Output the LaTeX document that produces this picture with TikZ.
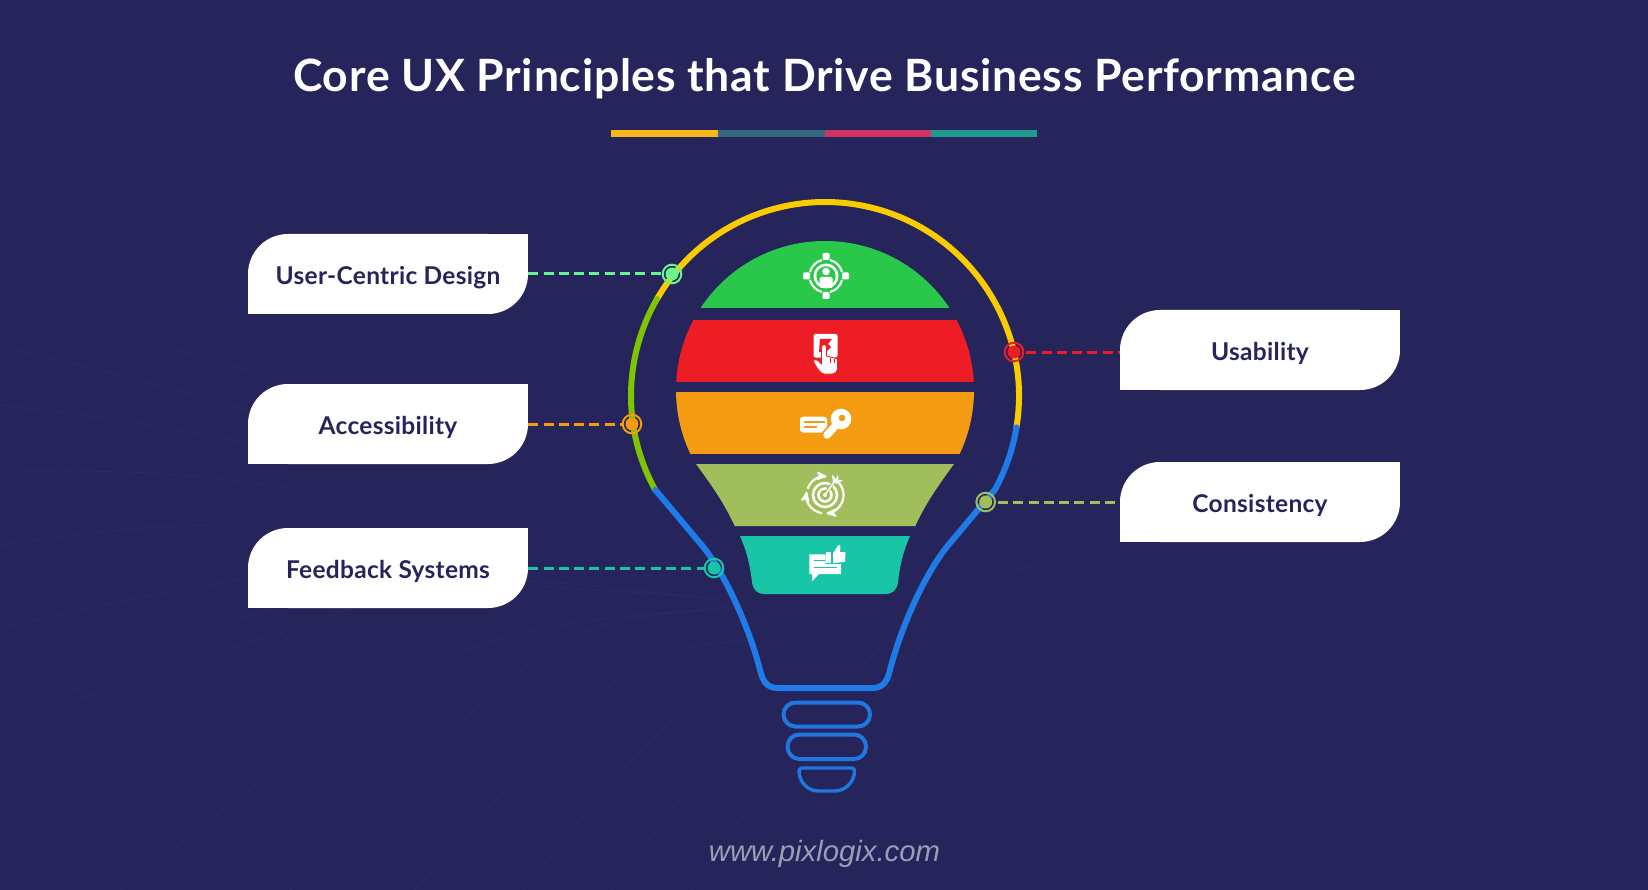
\documentclass[tikz,border=0pt]{standalone}
\usepackage{fontspec}
\setmainfont{Lato}
\newfontfamily\urlfont{Liberation Sans}
\usetikzlibrary{arrows, positioning}
\definecolor{bulbnavy}{HTML}{25255C}
\definecolor{raygrey}{HTML}{2B2B61}
\definecolor{bulbyellow}{HTML}{FACC00}
\definecolor{bulbgreen}{HTML}{7FC400}
\definecolor{bulbblue}{HTML}{1F7BE8}
\definecolor{socketblue}{HTML}{2176E0}
\definecolor{segmint}{HTML}{66F58F}
\definecolor{seggreen}{HTML}{2AC84A}
\definecolor{segred}{HTML}{EE1C25}
\definecolor{segorange}{HTML}{F59B12}
\definecolor{segolive}{HTML}{A0BE5C}
\definecolor{segteal}{HTML}{18C5A6}
\definecolor{ruleone}{HTML}{F8B61A}
\definecolor{ruletwo}{HTML}{336A80}
\definecolor{rulethree}{HTML}{CF3460}
\definecolor{rulefour}{HTML}{1F9A8F}
\definecolor{sitegrey}{HTML}{9C9CB4}
\tikzset{
        labelbox/.style={minimum width=280pt, minimum height=80pt, inner sep=0pt, text=bulbnavy,
            text height=20.5pt, text depth=0pt, font=\fontsize{24.5}{28}\selectfont\bfseries\addfontfeatures{LetterSpace=1.2},
            path picture={
                \fill[white, rounded corners=40pt] (path picture bounding box.south west) rectangle (path picture bounding box.north east);
                \fill[white] (path picture bounding box.north east) rectangle (path picture bounding box.center);
                \fill[white] (path picture bounding box.south west) rectangle (path picture bounding box.center);
            }}, % two round corners, two square ones
        dotmark/.style={circle, minimum size=13pt, inner sep=0pt},
        leader/.style={line width=3pt, dash pattern=on 10pt off 5.3pt},
        bulbline/.style={line width=6pt, line cap=round},
        socket/.style={draw=socketblue, line width=4pt},
        ray/.style={draw=raygrey, line width=.9pt},
    }

\begin{document}
\begin{tikzpicture}[x=1pt, y=-1pt]
    \fill[bulbnavy] (0,0) rectangle (1648,890);
    \useasboundingbox (0,0) rectangle (1648,890);

    % faint rays behind everything
    \foreach \ax/\ay/\bx/\by/\cx/\cy in {
        25/300/140/340/248/370, 0/346/125/376/248/410, 0/405/125/420/248/443,
        0/470/170/472/300/489, 0/545/150/525/300/525, 0/628/125/600/248/578,
        76/700/190/660/300/627, 0/725/330/570/700/597, 0/833/380/560/720/600,
        121/890/450/630/733/607, 290/890/560/620/720/610, 415/890/630/650/752/640,
        523/890/670/710/765/677, 612/890/715/750/797/710, 692/890/750/800/815/760,
        860/670/930/590/1027/557, 870/713/960/590/1093/543}
        \draw[ray] (\ax,\ay) .. controls (\bx,\by) .. (\cx,\cy);

    \node[anchor=base, text=white, font=\fontsize{44.5}{50}\selectfont\bfseries\addfontfeatures{LetterSpace=1.7}] (title) at (824.5,91.7) {Core UX Principles that Drive Business Performance};

    % title rule
    \fill[ruleone] (611,130) rectangle (718,136.7);
    \fill[ruletwo] (718,130) rectangle (825,136.7);
    \fill[rulethree] (825,130) rectangle (931,136.7);
    \fill[rulefour] (931,130) rectangle (1037,136.7);

    % bulb outline
    \coordinate (bulbc) at (825,396);
    \draw[bulbline, bulbyellow] ([shift={(9.3:194)}]bulbc) arc (9.3:-150:194);
    \draw[bulbline, bulbgreen] ([shift={(-150:194)}]bulbc) arc (-150:-209:194);
    \draw[bulbline, bulbblue] ([shift={(9.3:194)}]bulbc) arc (9.3:29:194)
        .. controls (980,507) and (962,529) .. (950,543)
        .. controls (925,572) and (900,630) .. (890,670)
        .. controls (887,682) and (883,688) .. (872,688) -- (778,688)
        .. controls (767,688) and (763,682) .. (760,670)
        .. controls (750,630) and (725,572) .. (700,543)
        .. controls (688,529) and (670,507) .. (655.3,490);

    % screw base
    \draw[socket, rounded corners=12pt] (783.5,702.5) rectangle (870,726.5);
    \draw[socket, rounded corners=12pt] (787.5,734.5) rectangle (866,759);
    \draw[socket, line width=3.4pt] (802,768) -- (851.5,768)
        .. controls (853.5,768) and (854.5,769.5) .. (854.5,771)
        .. controls (854.5,782) and (845,791) .. (835,791) -- (818,791)
        .. controls (808,791) and (799,782) .. (799,771)
        .. controls (799,769.5) and (800.5,768) .. (802,768) -- cycle;

    % stacked segments
    \begin{scope}
        \clip (825,390) circle (149);
        \fill[seggreen] (660,230) rectangle (990,307.7);
        \fill[segred] (660,320) rectangle (990,382);
        \fill[segorange] (660,392) rectangle (990,454);
    \end{scope}
    \fill[segolive] (696,464) -- (954,464) .. controls (935,490) and (925,505) .. (915.3,526)
        -- (734.7,526) .. controls (725,505) and (715,490) .. (696,464) -- cycle;
    \fill[segteal] (740,536) -- (910,536) .. controls (903,552) and (900,565) .. (898,582)
        .. controls (897,590) and (893,594) .. (885,594) -- (765,594)
        .. controls (757,594) and (753,590) .. (752,582)
        .. controls (750,565) and (747,552) .. (740,536) -- cycle;

    % icon: user target
    \foreach \r in {0,90,180,270} {
        \fill[white, rounded corners=1.2pt, shift={(826,276)}, rotate=\r] (16,-3.5) rectangle (23,3.5);
        \draw[white, line width=2.1pt] ([shift={(\r+14:16.5)}]826,276) arc (\r+14:\r+76:16.5);
    }
    \fill[white] (826,276) circle (12.5);
    \fill[seggreen] (826,276) circle (9.7);
    \fill[white] (826,271.5) circle (3.8);
    \fill[white, rounded corners=1.5pt] (819.5,277) rectangle (832.5,288);

    % icon: touch screen
    \fill[white, rounded corners=2pt] (813.5,334) rectangle (837.5,357.5);
    \fill[segred] (820,339) -- (832,339) -- (828,344) -- (831,347) -- (826,352) -- (819,352) -- cycle;
    \filldraw[fill=white, draw=segred, line width=.8pt] (821.5,358) -- (821.5,347)
        .. controls (821.5,344) and (826.5,344) .. (826.5,347) -- (826.5,356) -- (837.5,359) -- (837.5,368)
        .. controls (837.5,372) and (835,374) .. (831,374) -- (824,374)
        .. controls (820,374) and (816,366) .. (813.5,362)
        .. controls (813.5,359) and (816,359) .. (818,360.5) -- (821.5,364) -- cycle;
    \draw[segred, line width=.8pt] (830,358) -- (830,363) (834,358.5) -- (834,363);

    % icon: card and key
    \fill[white, rounded corners=3pt] (800,416.7) rectangle (827,432.5);
    \fill[segorange] (803.5,420.5) rectangle (825,423);
    \fill[segorange] (803.5,426) rectangle (817,428);
    \draw[segorange, line width=11pt] (826,436) -- (838,423);
    \draw[white, line width=7.5pt, line cap=round] (827,435) -- (838,423);
    \fill[white] (841,419) circle (10.3);
    \fill[segorange] (842,418) circle (3.3);

    % icon: target with arrows
    \draw[white, line width=2.6pt] (825,495) circle (12) (825,495) circle (6.5);
    \fill[white] (825,495) circle (2);
    \foreach \s/\e in {-40/85, 100/190, 200/275}
        \draw[white, line width=2.2pt, -stealth'] ([shift={(\s:18.5)}]825,495) arc (\s:\e:18.5);
    \draw[segolive, line width=3.4pt] (826,493) -- (834,482);
    \draw[white, line width=1.5pt] (825.5,494) -- (835,481);
    \fill[white] (833,482) -- (832,475) -- (836,479) -- (838,474.5) -- (838.5,480) -- (843,480) -- (837,484) -- cycle;

    % icon: speech bubble and thumb
    \fill[white] (809.3,554.3) -- (825.6,554.3) -- (825.6,564) -- (841,564) -- (841,574) -- (819,574)
        -- (812,581) -- (812,574) -- (809.3,574) -- cycle;
    \draw[segteal, line width=1pt] (814,560) -- (824.5,560) (813.5,567.3) -- (836.7,567.3);
    \fill[white] (826,552) rectangle (831,562.5);
    \fill[white] (833,553.5) -- (838,545.5) .. controls (839,544.5) and (840.5,545) .. (840.5,547)
        -- (840,552) -- (845.5,552) -- (845,562) -- (833,563) -- cycle;

    % labels
    \node[labelbox] (usercentric) at (388,274) {User-Centric Design};
    \node[labelbox] (accessibility) at (388,424) {Accessibility};
    \node[labelbox] (feedback) at (388,568) {Feedback Systems};
    \node[labelbox] (usability) at (1260,350) {Usability};
    \node[labelbox] (consistency) at (1260,502) {Consistency};

    % dots on the outline
    \foreach \nm/\px/\py/\col in {dotuser/672/274/segmint, dotaccess/632/424/segorange, dotfeed/714/568/segteal,
        dotusab/1014/352/segred, dotcons/985.7/502/segolive} {
        \node[dotmark, fill=\col] (\nm) at (\px,\py) {};
        \draw[\col, line width=2pt] (\nm) circle (9.3);
    }

    \draw[leader, segmint, shorten >=3.5pt] (usercentric.east) -- (dotuser);
    \draw[leader, segorange, shorten >=3.5pt] (accessibility.east) -- (dotaccess);
    \draw[leader, segteal, shorten >=3.5pt] (feedback.east) -- (dotfeed);
    \draw[leader, segred, shorten <=5.5pt] (dotusab) -- (dotusab -| usability.west);
    \draw[leader, segolive, shorten <=5.5pt] (dotcons) -- (consistency.west);

    \node[anchor=base, text=sitegrey, font=\urlfont\itshape\fontsize{29.3}{34}\selectfont] (site) at (824.5,861) {www.pixlogix.com};
\end{tikzpicture}
\end{document}
